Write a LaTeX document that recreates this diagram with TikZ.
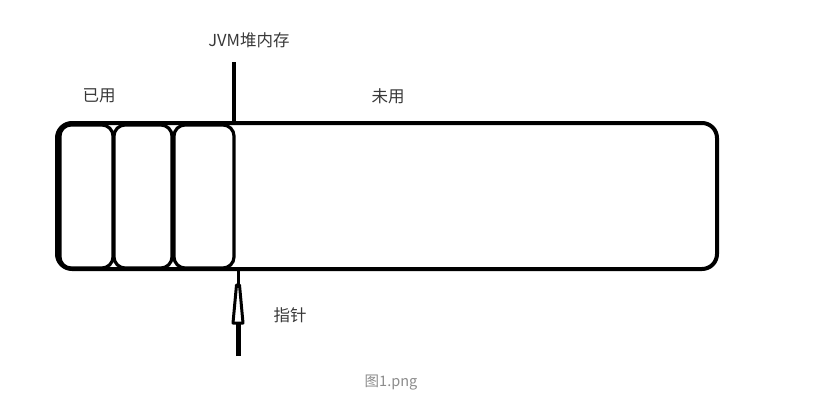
\documentclass[tikz,border=0pt]{standalone}
\usepackage{fontspec}
\newfontfamily\cjk{Noto Sans CJK SC}
\begin{document}
\begin{tikzpicture}[x=1pt,y=-1pt,
  lbl/.style={font=\cjk\fontsize{16.5}{19}\selectfont, text=black!78, inner sep=0pt},
  captxt/.style={font=\cjk\fontsize{14.5}{16}\selectfont, text=black!45, inner sep=0pt},
  heap/.style={draw=black, line width=4pt, rounded corners=15pt},
  cell/.style={draw=black, line width=3.2pt, rounded corners=11pt}]
\useasboundingbox (0,0) rectangle (816,407);
% cells
\draw[cell] (60,125) rectangle (113,268);
\draw[cell] (114,125) rectangle (172,268);
\draw[cell] (174,125) rectangle (234,268);
% heap
\draw[heap] (57,123) rectangle (717,269);
% top marker
\coordinate (top) at (234,62);
\coordinate (topend) at (234,123);
\draw[line width=3.5pt] (top) -- (topend);
% pointer arrow
\coordinate (pbot) at (238,356);
\coordinate (ptip) at (238,270);
\draw[line width=5pt] (pbot) -- (238,322);
\draw[line width=3pt, fill=white, line join=round] (233,323) -- (236.5,285) -- (239.5,285) -- (243,323) -- cycle;
\draw[line width=3pt] (238,285) -- (ptip);
% labels
\node[lbl] (jvm) at (249,40) {JVM堆内存};
\node[lbl] (used) at (99,96) {已用};
\node[lbl] (unused) at (388,96) {未用};
\node[lbl] (ptr) at (290,315) {指针};
\node[captxt] (caption) at (391,383) {图1.png};
\end{tikzpicture}
\end{document}
